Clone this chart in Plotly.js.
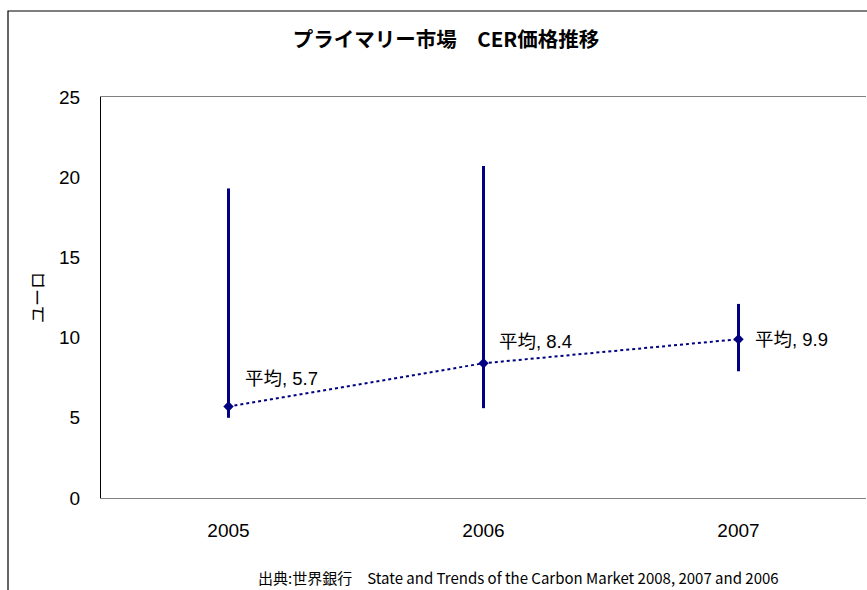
<!DOCTYPE html>
<html>
<head>
<meta charset="utf-8">
<script src="https://cdn.plot.ly/plotly-3.0.1.min.js"></script>
<style>html,body{margin:0;padding:0;background:#fff;}#chart{width:867px;height:590px;}</style>
</head>
<body>
<div id="chart"></div>
<script>
const years = ["2005", "2006", "2007"];
const avgPrice = [5.7, 8.4, 9.9];
const highPrice = [19.3, 20.7, 12.1];
const lowPrice = [5.0, 5.6, 7.9];
const labelPrefix = "平均, ";
const yTicks = [0, 5, 10, 15, 20, 25];

const navy = "#000080";
const errPlus = highPrice.map((h, i) => +(h - avgPrice[i]).toFixed(2));
const errMinus = lowPrice.map((l, i) => +(avgPrice[i] - l).toFixed(2));

const trace = {
  type: "scatter",
  mode: "lines+markers",
  x: years,
  y: avgPrice,
  line: {color: navy, width: 2, dash: "dot"},
  marker: {symbol: "diamond", size: 8, color: navy},
  error_y: {type: "data", symmetric: false, array: errPlus, arrayminus: errMinus,
            color: navy, thickness: 3, width: 0},
  hoverinfo: "skip"
};

const labelShift = [[14, 28], [13, 22], [14, 0]];
const annotations = years.map((yr, i) => ({
  x: i, y: avgPrice[i], xref: "x", yref: "y",
  text: labelPrefix + avgPrice[i].toFixed(1),
  showarrow: false, xanchor: "left", yanchor: "middle",
  xshift: labelShift[i][0], yshift: labelShift[i][1],
  font: {family: "'Liberation Sans', 'Noto Sans CJK JP', sans-serif", size: 18.5, color: "#000"}
}));
annotations.push({
  x: (518 - 101) / 765, y: (498 - 577) / 401, xref: "paper", yref: "paper",
  text: "出典:世界銀行　State and Trends of the Carbon Market 2008, 2007 and 2006",
  showarrow: false, xanchor: "center", yanchor: "middle",
  font: {family: "'Noto Sans CJK JP', sans-serif", size: 15, color: "#000"}
});

const layout = {
  width: 867, height: 590,
  margin: {l: 101, r: 1, t: 97, b: 92},
  paper_bgcolor: "#fff", plot_bgcolor: "#fff",
  showlegend: false,
  title: {text: "<b>プライマリー市場　CER価格推移</b>", x: 446 / 867, xanchor: "center",
          y: 1 - 40 / 590, yanchor: "middle",
          font: {family: "'Noto Sans CJK JP', sans-serif", size: 20.5, color: "#000"}},
  xaxis: {
    type: "category", range: [-0.5, 2.5],
    showgrid: false, zeroline: false,
    showline: true, linecolor: "#808080", linewidth: 1, mirror: true,
    ticks: "outside", ticklen: 15, tickcolor: "rgba(0,0,0,0)",
    tickfont: {family: "'Liberation Sans', Arial, sans-serif", size: 19, color: "#000"}
  },
  yaxis: {
    range: [0, 25], tickvals: yTicks, ticktext: yTicks.map(String),
    showgrid: false, zeroline: false,
    showline: true, linecolor: "#000", linewidth: 1,
    ticks: "outside", ticklen: 16, tickcolor: "rgba(0,0,0,0)",
    tickfont: {family: "'Liberation Sans', Arial, sans-serif", size: 19, color: "#000"},
    title: {text: "ユーロ", standoff: 10,
            font: {family: "'Noto Sans CJK JP', sans-serif", size: 17, color: "#000"}}
  },
  shapes: [{
    type: "rect", xref: "paper", yref: "paper",
    x0: (8 - 101) / 765, x1: 2, y0: -2, y1: (498 - 11) / 401,
    line: {color: "#000", width: 1.2}, fillcolor: "rgba(0,0,0,0)", layer: "below"
  }],
  annotations: annotations
};

Plotly.newPlot("chart", [trace], layout, {staticPlot: true, displayModeBar: false});
</script>
</body>
</html>
